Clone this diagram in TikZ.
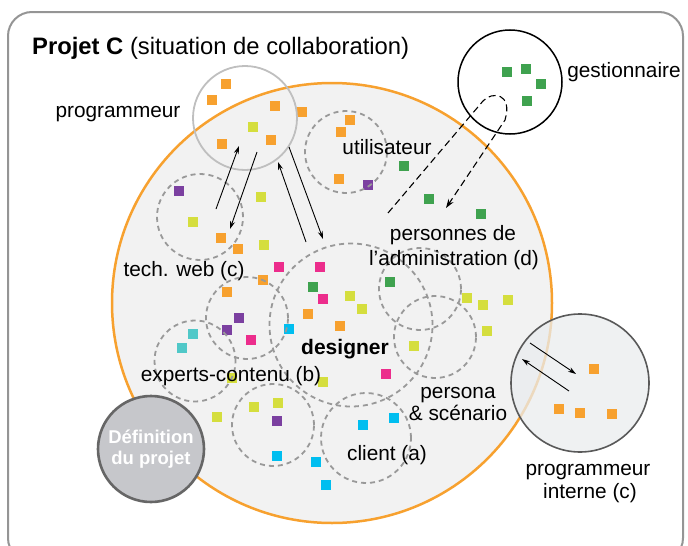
\documentclass[tikz,border=0pt]{standalone}
\usepackage{fontspec}
\setmainfont{Liberation Sans}
\usetikzlibrary{arrows.meta}
\definecolor{cOr}{HTML}{F7A12F}
\definecolor{cLi}{HTML}{D5DE3E}
\definecolor{cGr}{HTML}{3FA24F}
\definecolor{cPu}{HTML}{7B40A0}
\definecolor{cPk}{HTML}{EC2D8C}
\definecolor{cCy}{HTML}{00BEF0}
\definecolor{cTe}{HTML}{50C8C8}
\definecolor{cBg}{HTML}{F2F2F2}
\definecolor{cFrame}{HTML}{959595}
\definecolor{cDash}{HTML}{999999}
\definecolor{cDef}{HTML}{C6C7CB}
\definecolor{cInt}{HTML}{E9ECEE}
\begin{document}
\begin{tikzpicture}[x=1pt,y=-1pt,
  sq/.style={minimum size=10pt,inner sep=0pt,draw=none,fill=#1},
  dcirc/.style={circle,draw=cDash,line width=1.8pt,dash pattern=on 5pt off 4pt,inner sep=0pt,minimum size=#1},
  lbl/.style={font=\fontsize{20.8}{24}\selectfont,align=center,inner sep=0pt},
  arr/.style={-{Stealth[length=8pt,width=5pt]},line width=0.9pt},
  darr/.style={-{Stealth[length=9pt,width=6pt]},line width=1.1pt,dash pattern=on 7pt off 4pt}]
\useasboundingbox (0,0) rectangle (688,546);
% frame
\draw[cFrame,line width=2pt,rounded corners=24pt] (8,12) rectangle (683,562);
% big orange circle
\node[circle,draw=cOr,fill=cBg,line width=2.5pt,minimum size=440pt,inner sep=0pt] (big) at (332,303) {};
% squares
\foreach \x/\y [count=\i] in {226/84,212/100,275/106,302/112,271/140,222/144,221/238,238/249,350/120,341/132,339/179,263/280,227/292,308/314,340/326}
  \node[sq=cOr] (or\i) at (\x,\y) {};
\foreach \x/\y [count=\i] in {253/127,261/197,193/222,264/245,350/296,362/309,232/378,323/382,217/417,254/407,278/403,467/298,483/305,508/300,487/331,414/346}
  \node[sq=cLi] (li\i) at (\x,\y) {};
\foreach \x/\y [count=\i] in {404/166,429/199,481/214,507/72,526/69,541/84,527/101,313/287,390/282}
  \node[sq=cGr] (gr\i) at (\x,\y) {};
\foreach \x/\y [count=\i] in {179/191,368/185,239/318,227/330,277/421}
  \node[sq=cPu] (pu\i) at (\x,\y) {};
\foreach \x/\y [count=\i] in {279/267,320/267,323/299,251/340,386/374}
  \node[sq=cPk] (pk\i) at (\x,\y) {};
\foreach \x/\y [count=\i] in {289/329,363/425,394/418,277/456,316/462,326/485}
  \node[sq=cCy] (cy\i) at (\x,\y) {};
\foreach \x/\y [count=\i] in {193/334,182/348}
  \node[sq=cTe] (te\i) at (\x,\y) {};
% dashed circles
\node[dcirc=82pt] (util) at (346,152) {};
\node[dcirc=86pt] (tech) at (200,217) {};
\node[dcirc=163pt] (des) at (351,325) {};
\node[dcirc=82pt] (expA) at (247,318) {};
\node[dcirc=81pt] (expB) at (195,361) {};
\node[dcirc=82pt] (low) at (273,425) {};
\node[dcirc=90pt] (cli) at (366,438) {};
\node[dcirc=82pt] (adm) at (420,289) {};
\node[dcirc=82pt] (pers) at (435,337) {};
% solid circles
\node[circle,draw=black!25,line width=1.8pt,minimum size=104pt,inner sep=0pt] (prog) at (245,118) {};
\node[circle,draw=black,line width=1.5pt,minimum size=104pt,inner sep=0pt] (gest) at (510,82) {};
\node[circle,draw=black!65,fill=cInt,fill opacity=0.75,line width=1.6pt,minimum size=138pt,inner sep=0pt] (int) at (580,383) {};
\node[circle,draw=black!60,fill=cDef,line width=2.6pt,minimum size=106pt,inner sep=0pt,
  font=\fontsize{18.5}{21}\selectfont\bfseries,text=white,align=center] (def) at (151,449) {Définition\\du projet};
% squares inside programmeur interne
\foreach \x/\y [count=\i] in {594/369,559/409,580/413,612/414}
  \node[sq=cOr] (ori\i) at (\x,\y) {};
% arrow endpoints
\coordinate (a1s) at (216,209); \coordinate (a1e) at (239,146);
\coordinate (a2s) at (257,152); \coordinate (a2e) at (230,229);
\coordinate (a3s) at (306,242); \coordinate (a3e) at (278,162);
\coordinate (a4s) at (289,147); \coordinate (a4e) at (323,239);
\coordinate (a5s) at (530,343); \coordinate (a5e) at (576,374);
\coordinate (a6s) at (569,391); \coordinate (a6e) at (522,359);
\coordinate (g1) at (388,213); \coordinate (g2) at (483,101);
\coordinate (g3) at (505,120); \coordinate (g4) at (446,208);
\draw[arr] (a1s) -- (a1e);
\draw[arr] (a2s) -- (a2e);
\draw[arr] (a3s) -- (a3e);
\draw[arr] (a4s) -- (a4e);
\draw[arr] (a5s) -- (a5e);
\draw[arr] (a6s) -- (a6e);
\draw[darr] (g1) -- (g2) .. controls (492,91) and (513,93) .. (g3) -- (g4);
% labels
\node[anchor=base west,inner sep=0pt,font=\fontsize{23.8}{26}\selectfont] (title) at (32,54) {\textbf{Projet C} (situation de collaboration)};
\node[lbl,anchor=base] (lprog) at (118,117) {programmeur};
\node[lbl,anchor=base] (lgest) at (624,77) {gestionnaire};
\node[lbl,anchor=base] (lutil) at (387,154) {utilisateur};
\node[lbl,anchor=base] (ladm1) at (453,240) {personnes de};
\node[lbl,anchor=base] (ladm2) at (454,265) {l’administration (d)};
\node[lbl,anchor=base] (ltech) at (184,276) {tech. web (c)};
\node[lbl,anchor=base,font=\fontsize{21}{24}\selectfont\bfseries] (ldes) at (345,354) {designer};
\node[lbl,anchor=base] (lexp) at (231,381) {experts-contenu (b)};
\node[lbl,anchor=base] (lper1) at (458,398) {persona};
\node[lbl,anchor=base] (lper2) at (458,420) {\& scénario};
\node[lbl,anchor=base] (lcli) at (387,460) {client (a)};
\node[lbl,anchor=base] (lint1) at (588,475) {programmeur};
\node[lbl,anchor=base] (lint2) at (590,498) {interne (c)};
\end{tikzpicture}
\end{document}
